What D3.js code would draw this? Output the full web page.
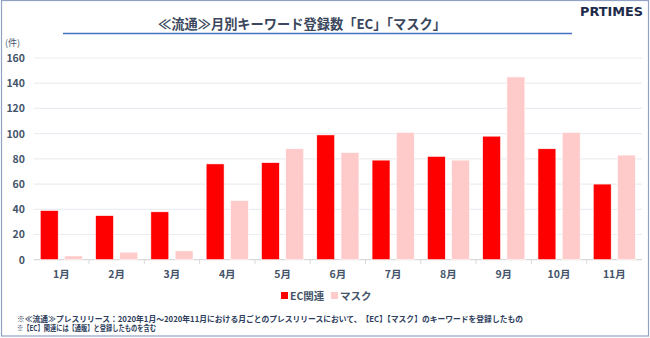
<!DOCTYPE html>
<html><head><meta charset="utf-8">
<script src="https://cdn.jsdelivr.net/npm/d3@7/dist/d3.min.js"></script>
<style>
html,body{margin:0;padding:0;background:#fff;}
svg{display:block;font-family:"Noto Sans CJK JP","Noto Sans",sans-serif;}
</style></head><body>
<svg id="c" width="650" height="338"></svg>
<script>
const months = ["1月","2月","3月","4月","5月","6月","7月","8月","9月","10月","11月"];
const ecValues = [39,35,38,76,77,99,79,82,98,88,60];
const maskValues = [3,6,7,47,88,85,101,79,145,101,83];
const seriesNames = ["EC関連","マスク"];
const seriesColors = ["#ff0000","#ffcaca"];
const yTicks = [0,20,40,60,80,100,120,140,160];
const title = "≪流通≫月別キーワード登録数「EC」「マスク」";
const notes = ["※≪流通≫プレスリリース：2020年1月～2020年11月における月ごとのプレスリリースにおいて、【EC】【マスク】のキーワードを登録したもの",
               "※【EC】関連には【通販】と登録したものを含む"];

const svg = d3.select("#c");
const textCol = "#44546a";

// frame
svg.append("rect").attr("x",1.5).attr("y",0.5).attr("width",647).attr("height",335.5)
  .attr("fill","none").attr("stroke","#8fa2c4").attr("stroke-width",1.2);

// title
svg.append("text").attr("x",302).attr("y",29).attr("text-anchor","middle")
  .attr("font-size",13.5).attr("font-weight","bold").attr("fill","#3a475c")
  .attr("textLength",288).attr("lengthAdjust","spacingAndGlyphs").text(title);
svg.append("line").attr("x1",63).attr("x2",572).attr("y1",33.5).attr("y2",33.5)
  .attr("stroke","#4472c4").attr("stroke-width",1.3);

// logo
svg.append("text").attr("x",580).attr("y",15.5)
  .attr("font-size",13).attr("font-weight","900").attr("font-family","'DejaVu Sans', sans-serif")
  .attr("fill","#1e2b4a").attr("textLength",63).attr("lengthAdjust","spacingAndGlyphs").text("PRTIMES");

// unit
svg.append("text").attr("x",5).attr("y",46).attr("font-size",9).attr("fill",textCol).text("(件)");

const x0 = d3.scaleBand().domain(months).range([33.7,642]).paddingInner(0).paddingOuter(0);
const x1 = d3.scaleBand().domain(seriesNames).range([0,x0.bandwidth()]).paddingInner(0.26).paddingOuter(0.27);
const y = d3.scaleLinear().domain([0,160]).range([259.7,58]);

// grid
svg.append("g").selectAll("line").data(yTicks).join("line")
  .attr("x1",33.7).attr("x2",642).attr("y1",d=>y(d)).attr("y2",d=>y(d))
  .attr("stroke",d=>d===0?"#d9d9d9":"#ebedf2").attr("stroke-width",1.2);

// y labels
svg.append("g").selectAll("text").data(yTicks).join("text")
  .attr("x",25).attr("y",d=>y(d)+4).attr("text-anchor","end")
  .attr("font-size",10.5).attr("font-weight","bold").attr("fill",textCol).text(d=>d);

// x axis
const xAxis = d3.axisBottom(x0).tickSize(0).tickFormat(d=>d);
const gx = svg.append("g").attr("transform","translate(0,259.7)").call(xAxis);
gx.select(".domain").remove();
gx.selectAll("text").attr("dy",0).attr("y",18).attr("font-size",10.5).attr("font-weight","bold")
  .attr("fill",textCol).attr("font-family","'Noto Sans CJK JP',sans-serif");
svg.append("g").selectAll("line").data(months.slice(1)).join("line")
  .attr("x1",d=>x0(d)).attr("x2",d=>x0(d)).attr("y1",259.7).attr("y2",264)
  .attr("stroke","#d9d9d9").attr("stroke-width",1);

// bars
const data = months.map((m,i)=>({m, vals:[ecValues[i],maskValues[i]]}));
const groups = svg.append("g").selectAll("g").data(data).join("g")
  .attr("transform",d=>`translate(${x0(d.m)},0)`);
groups.selectAll("rect").data(d=>d.vals.map((v,j)=>({v,j}))).join("rect")
  .attr("x",d=>x1(seriesNames[d.j])).attr("width",x1.bandwidth())
  .attr("y",d=>y(d.v)).attr("height",d=>y(0)-y(d.v))
  .attr("fill",d=>seriesColors[d.j]).attr("stroke","#fff").attr("stroke-width",0.6);

// legend
const lg = svg.append("g").attr("transform","translate(281,296)");
const lx = [0,50];
seriesNames.forEach((s,i)=>{
  lg.append("rect").attr("x",lx[i]).attr("y",-4).attr("width",7).attr("height",7).attr("fill",seriesColors[i]);
  lg.append("text").attr("x",lx[i]+9).attr("y",4).attr("font-size",10.5).attr("font-weight","bold")
    .attr("fill",textCol).text(s);
});

// notes
const noteLens = [506,139];
notes.forEach((n,i)=>{
  svg.append("text").attr("x",17).attr("y",321.5+i*9.5).attr("font-size",7.8).attr("font-weight","bold")
    .attr("fill","#2e3d5c").attr("textLength",noteLens[i]).attr("lengthAdjust","spacingAndGlyphs").text(n);
});
</script></body></html>
